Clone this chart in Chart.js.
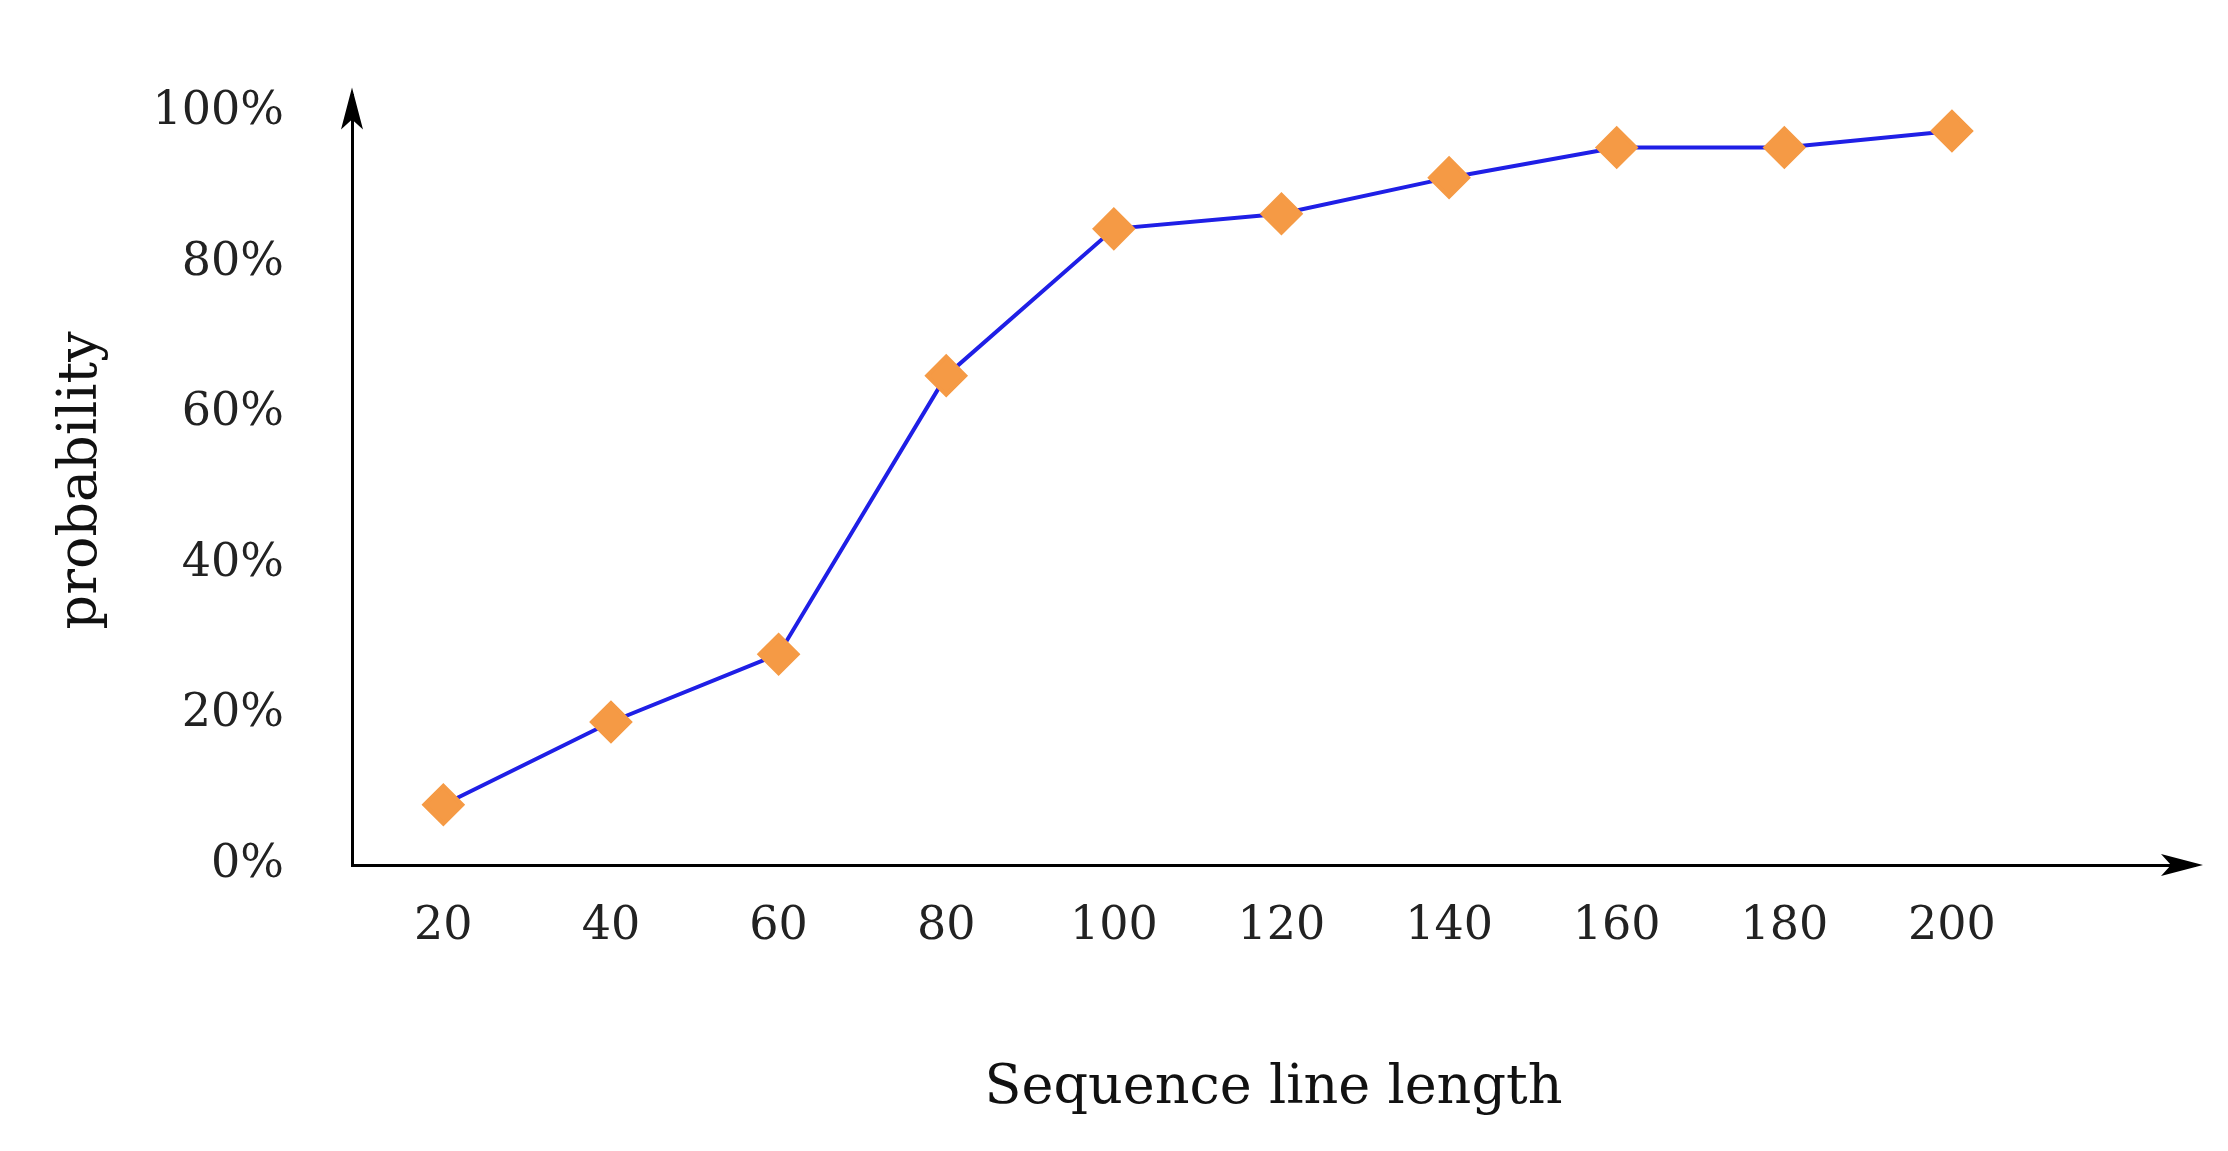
<!DOCTYPE html>
<html><head><meta charset="utf-8">
<script src="https://cdn.jsdelivr.net/npm/chart.js@4"></script>
<style>html,body{margin:0;padding:0;background:#fff}#w{width:2228px;height:1151px}</style>
</head><body><div id="w"><canvas id="c"></canvas></div>
<script>
const lengths = [20, 40, 60, 80, 100, 120, 140, 160, 180, 200];
const probability = [8, 19, 28, 65, 84.5, 86.5, 91.3, 95.3, 95.3, 97.5];
const yTicks = [0, 20, 40, 60, 80, 100];

const FONT = '"DejaVu Serif", "Liberation Serif", serif';
const arrows = {
  id: 'arrows',
  afterDraw(chart) {
    const {ctx, chartArea: a} = chart;
    ctx.save();
    ctx.fillStyle = '#000';
    ctx.beginPath();
    ctx.moveTo(a.left, a.top - 8); ctx.lineTo(a.left - 11, a.top + 34); ctx.lineTo(a.left, a.top + 24); ctx.lineTo(a.left + 11, a.top + 34); ctx.closePath(); ctx.fill();
    ctx.beginPath();
    ctx.moveTo(a.right + 8, a.bottom); ctx.lineTo(a.right - 34, a.bottom - 11); ctx.lineTo(a.right - 24, a.bottom); ctx.lineTo(a.right - 34, a.bottom + 11); ctx.closePath(); ctx.fill();
    ctx.restore();
  }
};
new Chart(document.getElementById('c'), {
  type: 'line',
  data: { datasets: [{
    data: lengths.map((x, i) => ({x, y: probability[i]})),
    borderColor: '#1f1fe6', borderWidth: 4, tension: 0,
    pointStyle: 'rectRot', pointRadius: 19, pointBackgroundColor: '#f59a45', pointBorderColor: '#f59a45'
  }]},
  options: {
    responsive: true, maintainAspectRatio: false, animation: false,
    layout: { padding: { left: 0, top: 71, right: 33, bottom: 0 } },
    plugins: { legend: { display: false }, tooltip: { enabled: false } },
    scales: {
      x: {
        type: 'linear', min: 9.1, max: 229,
        afterBuildTicks: ax => { ax.ticks = lengths.map(v => ({value: v})); },
        afterFit: ax => { ax.height = 286; },
        grid: { display: false, drawTicks: false },
        border: { color: '#000', width: 3 },
        ticks: { color: '#222', font: { family: FONT, size: 46 }, padding: 34, maxRotation: 0, autoSkip: false },
        title: { display: true, text: 'Sequence line length', color: '#111', font: { family: FONT, size: 54 }, padding: { top: 0, bottom: 30 } }
      },
      y: {
        min: 0, max: 102.2,
        afterBuildTicks: ax => { ax.ticks = yTicks.map(v => ({value: v})); },
        afterFit: ax => { ax.width = 352; },
        grid: { display: false, drawTicks: false },
        border: { color: '#000', width: 3 },
        ticks: { color: '#222', font: { family: FONT, size: 46 }, padding: 68, callback: v => v + '%' },
        title: { display: true, text: 'probability', color: '#111', font: { family: FONT, size: 54 }, padding: { top: 50, bottom: 0 } }
      }
    }
  },
  plugins: [arrows]
});
</script></body></html>
